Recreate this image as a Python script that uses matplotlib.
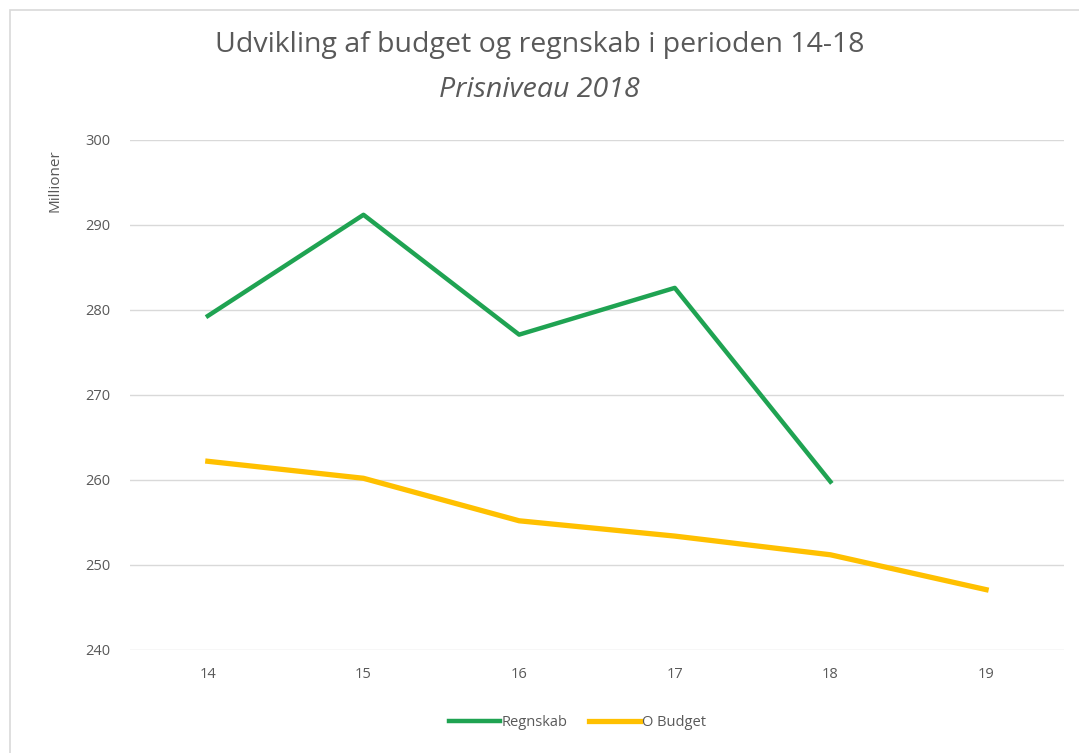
import matplotlib.pyplot as plt
from matplotlib.patches import Rectangle

# data
years = ["14", "15", "16", "17", "18", "19"]
regnskab = [279.3, 291.2, 277.1, 282.6, 259.8]
budget = [262.2, 260.2, 255.2, 253.4, 251.2, 247.1]
yticks = [240, 250, 260, 270, 280, 290, 300]

plt.rcParams['font.family'] = ['Open Sans', 'DejaVu Sans']
grey = '#595959'

fig = plt.figure(figsize=(10.79, 7.53), dpi=100)
ax = fig.add_axes([0.1205, 0.1368, 0.8655, 0.6773])

# light frame around the chart area
fig.patches.append(Rectangle((10 / 1079, -0.1), 1.2, (753 - 10) / 753 + 0.1,
                             transform=fig.transFigure, fill=False,
                             edgecolor='#d9d9d9', linewidth=1.2))

x = list(range(len(years)))
ax.plot(x[:len(regnskab)], regnskab, color='#1fa352', linewidth=3.2, label='Regnskab')
ax.plot(x, budget, color='#ffc000', linewidth=3.8, label='O Budget')

ax.set_xlim(-0.5, len(years) - 0.5)
ax.set_ylim(240, 300)
ax.set_xticks(x)
ax.set_xticklabels(years)
ax.set_yticks(yticks)
ax.tick_params(colors=grey, labelsize=10.5, length=0, pad=12)
ax.tick_params(axis='y', pad=14)
ax.grid(axis='y', color='#d9d9d9', linewidth=1)
ax.set_axisbelow(True)
for s in ax.spines.values():
    s.set_visible(False)

ax.set_ylabel('Millioner', color=grey, fontsize=11)
ax.yaxis.set_label_coords(-0.072, 0.92)

fig.text(0.5, 0.94, 'Udvikling af budget og regnskab i perioden 14-18',
         ha='center', va='center', fontsize=20.5, color=grey)
fig.text(0.5, 0.88, 'Prisniveau 2018', ha='center', va='center',
         fontsize=20.5, color=grey, style='italic')

fig.legend(loc='center', bbox_to_anchor=(0.535, 0.041), ncol=2, frameon=False,
           fontsize=10.5, labelcolor=grey, handlelength=3.5, handletextpad=0.1,
           columnspacing=1.5)

plt.savefig('out.png', dpi=100)
